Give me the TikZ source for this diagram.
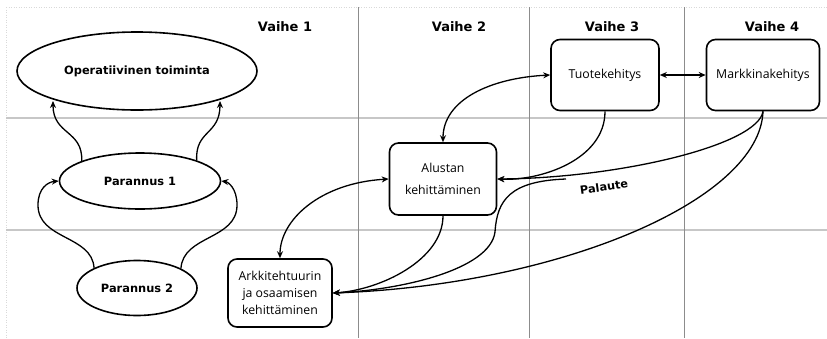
\documentclass[tikz,border=0pt]{standalone}
\usepackage{fontspec}
\setmainfont{Open Sans}
\newfontfamily\boldsans{DejaVu Sans}
\usetikzlibrary{shapes.geometric,arrows.meta}
\begin{document}
\begin{tikzpicture}[x=1pt,y=-1pt,
  ell/.style={draw,line width=1.6pt,ellipse,inner sep=0pt,font=\boldsans\fontsize{11.4}{13}\selectfont\bfseries},
  rbox/.style={draw,line width=1.6pt,rounded corners=9pt,inner sep=0pt,align=center,font=\fontsize{12.3}{17}\selectfont},
  title/.style={font=\boldsans\fontsize{13}{15}\selectfont\bfseries},
  conn/.style={line width=1.3pt,-{Stealth[length=7pt,width=6pt]}},
  dconn/.style={line width=1.3pt,{Stealth[length=7pt,width=6pt]}-{Stealth[length=7pt,width=6pt]}},
  vline/.style={draw=black!45,line width=0.6pt},
  hline/.style={draw=black!22,line width=1.6pt},
  border/.style={draw=black!15,line width=0.5pt,dotted}]
\useasboundingbox (0,0) rectangle (827,338);
% frame and grid
\draw[border] (6,7) -- (827,7);
\draw[border] (6,7) -- (6,338);
\draw[hline] (6,118) -- (827,118);
\draw[hline] (6,230) -- (827,230);
\draw[vline] (358,7) -- (358,338);
\draw[vline] (529,7) -- (529,338);
\draw[vline] (684,7) -- (684,338);
% titles
\node[title] (v1) at (285,27) {Vaihe 1};
\node[title] (v2) at (459,27) {Vaihe 2};
\node[title] (v3) at (612,27) {Vaihe 3};
\node[title] (v4) at (772,27) {Vaihe 4};
% nodes
\node[ell,minimum width=240pt,minimum height=78pt] (op) at (137,71) {Operatiivinen toiminta};
\node[ell,minimum width=161pt,minimum height=56pt] (p1) at (140,181) {Parannus 1};
\node[ell,minimum width=120pt,minimum height=55pt] (p2) at (137,288) {Parannus 2};
\node[rbox,minimum width=104pt,minimum height=68pt] (ark) at (280,293) {Arkkitehtuurin\\ja osaamisen\\kehittäminen};
\node[rbox,minimum width=107pt,minimum height=72pt,font=\fontsize{12.3}{22}\selectfont] (al) at (443,179) {Alustan\\kehittäminen};
\node[rbox,minimum width=108pt,minimum height=71pt] (tu) at (605,75) {Tuotekehitys};
\node[rbox,minimum width=113pt,minimum height=71pt] (ma) at (763,75) {Markkinakehitys};
\node[font=\boldsans\fontsize{11.3}{14}\selectfont\bfseries,rotate=8] (pal) at (604,187) {Palaute};
% connectors left
\draw[conn] (p1.161) .. controls (83,130) and (53,135) .. (53,101);
\draw[conn] (p1.20) .. controls (195,130) and (220,135) .. (220,101);
\draw[conn] (p2.155) .. controls (92,235) and (38,240) .. (38,205) .. controls (38,188) and (48,182) .. (p1.west);
\draw[conn] (p2.24) .. controls (183,235) and (237,240) .. (237,205) .. controls (237,188) and (228,182) .. (p1.east);
% connectors right
\draw[dconn] (tu.west) .. controls (490,78) and (443,100) .. (al.north);
\draw[dconn] (tu.east) -- (ma.west);
\draw[conn] (tu.south) .. controls (605,160) and (540,181) .. (al.east);
\draw[conn] (ma.south) .. controls (758,145) and (620,178) .. (al.east);
\draw[dconn] (al.west) .. controls (320,183) and (280,220) .. (ark.north);
\draw[conn] (al.south) .. controls (443,260) and (380,290) .. (ark.east);
\draw[conn] (ma.south) .. controls (760,200) and (560,285) .. (ark.east);
\coordinate (fb) at (566,179);
\draw[conn] (fb) .. controls (510,181) and (497,200) .. (495,232) .. controls (490,270) and (400,290) .. (ark.east);
\end{tikzpicture}
\end{document}
